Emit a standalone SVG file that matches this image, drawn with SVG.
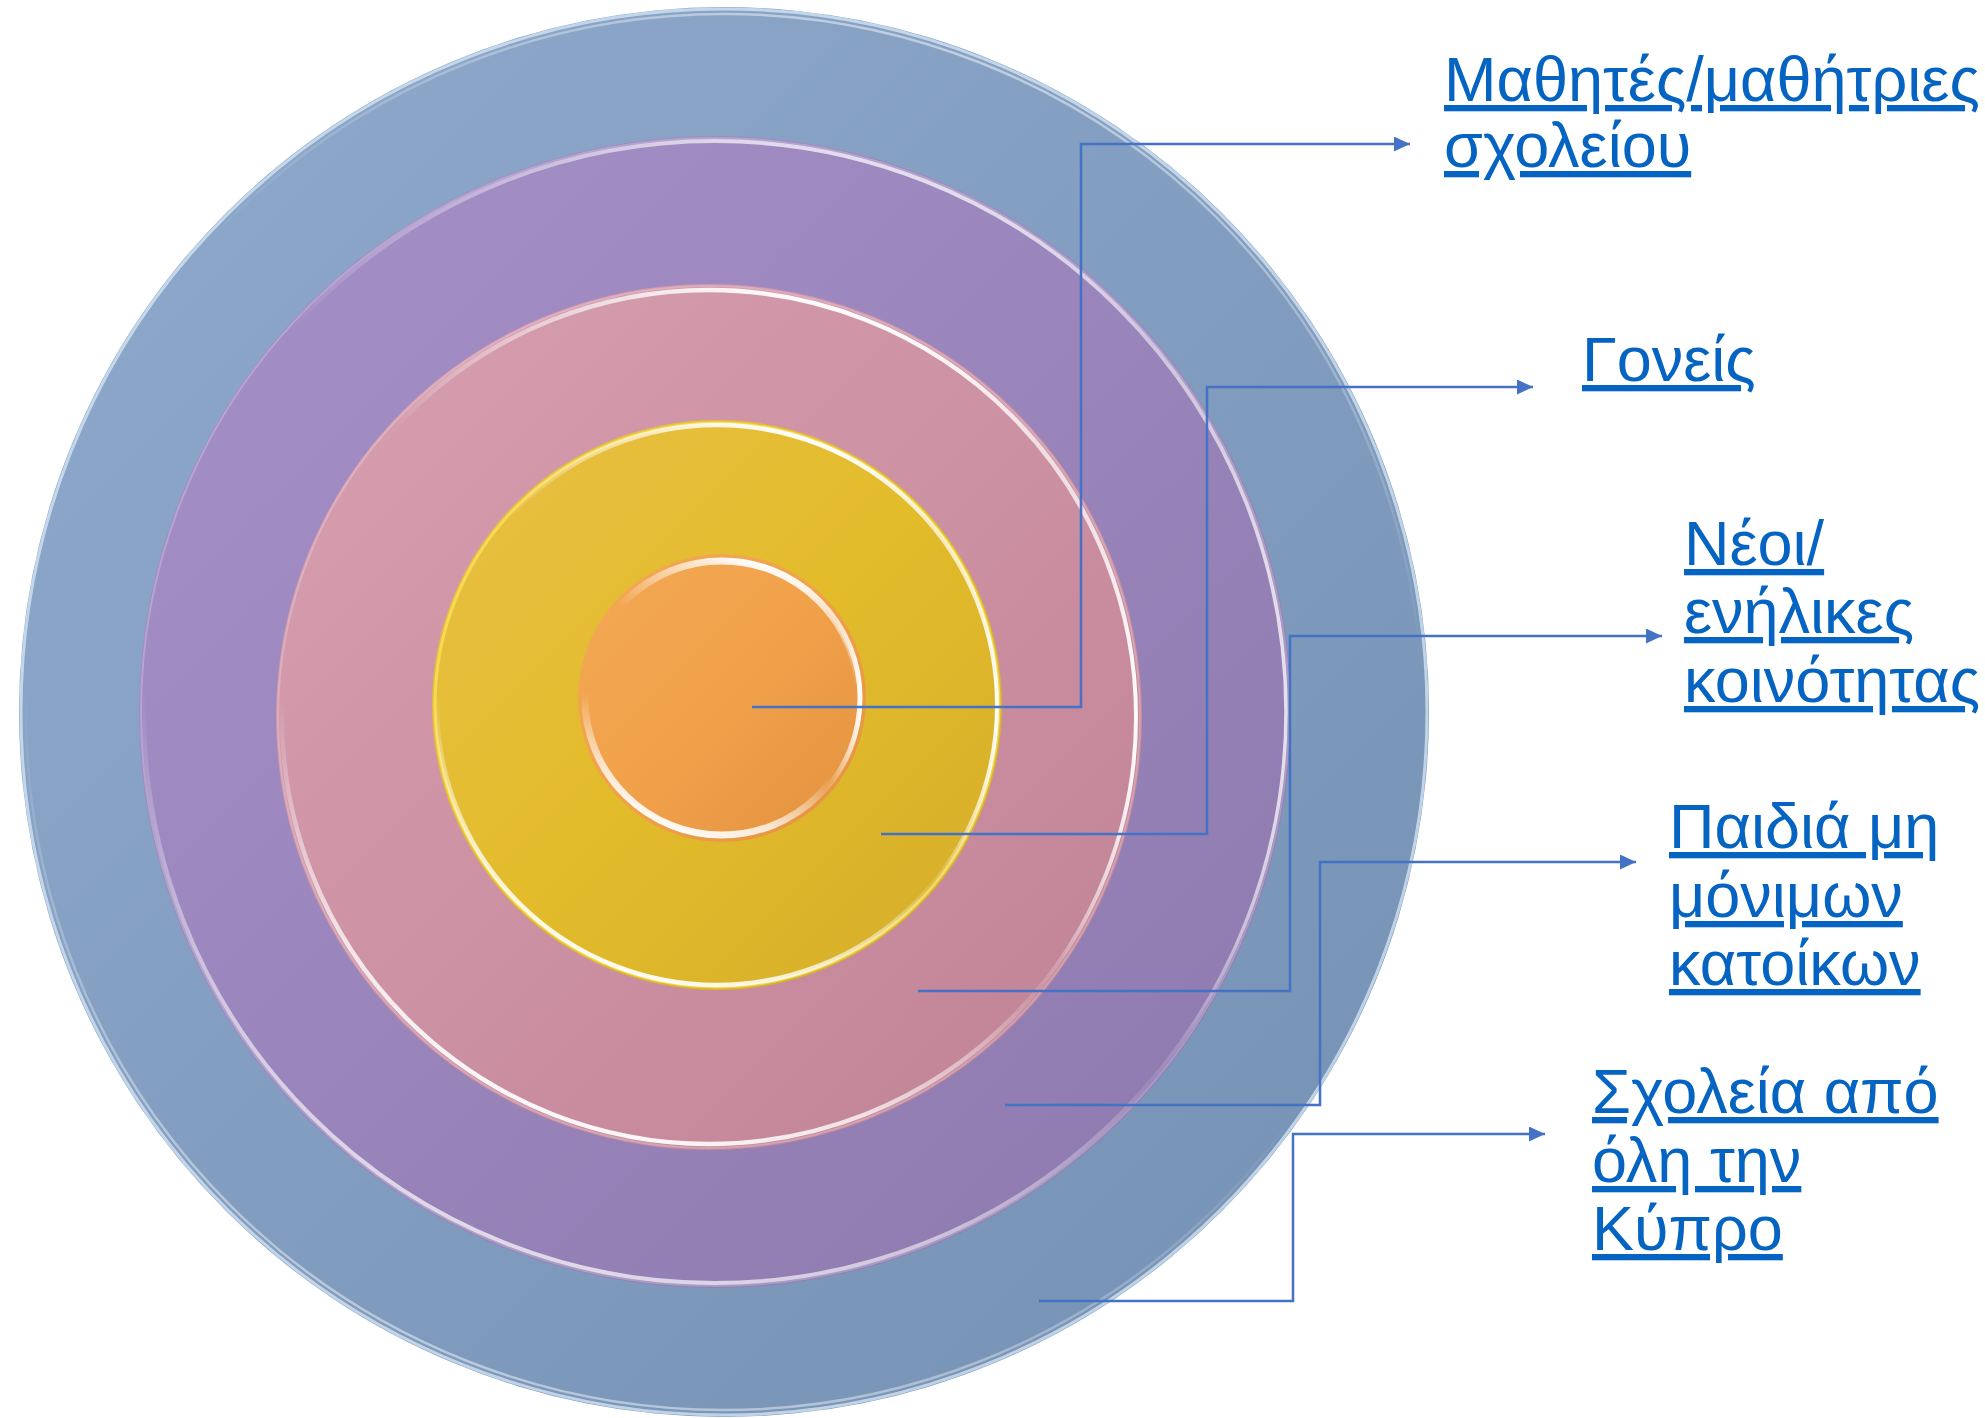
<svg xmlns="http://www.w3.org/2000/svg" width="1985" height="1418" viewBox="0 0 1985 1418">
<style>
.lbl{font-family:"Liberation Sans","Noto Sans",Arial,sans-serif;font-size:63px;fill:#0563C1;text-decoration:underline;}
.conn{fill:none;stroke:#4472C4;stroke-width:2.5;marker-end:url(#arr);}
.rimA{fill:none;stroke:url(#rimTB);}
.rimB{fill:none;stroke:url(#rimR);}
.faint{fill:none;stroke:#FFFFFF;stroke-opacity:0.22;stroke-width:2;}
</style>
<defs>
<marker id="arr" markerUnits="userSpaceOnUse" markerWidth="17" markerHeight="16" refX="16" refY="7.5" orient="auto">
<path d="M0,0 L16,7.5 L0,15 z" fill="#4472C4"/>
</marker>
<linearGradient id="gBlue" x1="0" y1="0" x2="1" y2="1">
<stop offset="0" stop-color="#8FAACC"/><stop offset="1" stop-color="#7490B3"/>
</linearGradient>
<linearGradient id="gPurple" x1="0" y1="0" x2="1" y2="1">
<stop offset="0" stop-color="#A690C8"/><stop offset="1" stop-color="#8D79AE"/>
</linearGradient>
<linearGradient id="gPink" x1="0" y1="0" x2="1" y2="1">
<stop offset="0" stop-color="#D8A0B2"/><stop offset="1" stop-color="#C08294"/>
</linearGradient>
<linearGradient id="gYellow" x1="0" y1="0" x2="1" y2="1">
<stop offset="0" stop-color="#E9BF45"/><stop offset="0.5" stop-color="#E3BC2B"/><stop offset="1" stop-color="#D4AC2A"/>
</linearGradient>
<linearGradient id="gOrange" x1="0" y1="0" x2="1" y2="1">
<stop offset="0" stop-color="#F3A954"/><stop offset="0.5" stop-color="#F1A14A"/><stop offset="1" stop-color="#E2923F"/>
</linearGradient>
<linearGradient id="rimTB" x1="0.62" y1="0" x2="0.28" y2="1">
<stop offset="0" stop-color="#FFFFFF" stop-opacity="1"/>
<stop offset="0.12" stop-color="#FFFFFF" stop-opacity="0.55"/>
<stop offset="0.3" stop-color="#FFFFFF" stop-opacity="0"/>
<stop offset="0.62" stop-color="#FFFFFF" stop-opacity="0"/>
<stop offset="0.85" stop-color="#FFFFFF" stop-opacity="0.75"/>
<stop offset="1" stop-color="#FFFFFF" stop-opacity="1"/>
</linearGradient>
<linearGradient id="rimR" x1="0" y1="0.5" x2="1" y2="0.5">
<stop offset="0" stop-color="#FFFFFF" stop-opacity="0"/>
<stop offset="0.88" stop-color="#FFFFFF" stop-opacity="0"/>
<stop offset="1" stop-color="#FFFFFF" stop-opacity="0.95"/>
</linearGradient>
</defs>
<rect width="1985" height="1418" fill="#FFFFFF"/>
<g id="ring-outer">
<circle cx="724" cy="712" r="705" fill="url(#gBlue)"/>
<circle cx="724" cy="712" r="703" fill="none" stroke="#D8E8F6" stroke-width="3" stroke-opacity="0.75"/>
<circle cx="724" cy="712" r="698" class="rimA" stroke-width="2.5" opacity="0.5"/>
</g>
<g id="ring-purple">
<circle cx="715" cy="712" r="576" fill="url(#gPurple)"/>
<circle cx="715" cy="712" r="574" class="faint"/>
<circle cx="715" cy="712" r="571" class="rimA" stroke-width="4" opacity="0.75"/>
<circle cx="715" cy="712" r="571" class="rimB" stroke-width="3.5" opacity="0.8"/>
</g>
<g id="ring-pink">
<circle cx="709" cy="717" r="433" fill="url(#gPink)"/>
<circle cx="709" cy="717" r="431" class="faint"/>
<circle cx="709" cy="717" r="427" class="rimA" stroke-width="4.5"/>
<circle cx="709" cy="717" r="427" class="rimB" stroke-width="4"/>
</g>
<g id="ring-yellow">
<circle cx="717" cy="705" r="285" fill="url(#gYellow)"/>
<circle cx="717" cy="705" r="282" fill="none" stroke="#FFEE66" stroke-width="3" stroke-opacity="0.6"/>
<circle cx="717" cy="705" r="280" class="rimA" stroke-width="4.5"/>
<circle cx="717" cy="705" r="280" class="rimB" stroke-width="4"/>
</g>
<g id="ring-center">
<circle cx="722" cy="698" r="144" fill="url(#gOrange)"/>
<circle cx="722" cy="698" r="137" class="rimA" stroke-width="7"/>
<circle cx="722" cy="698" r="138" class="rimB" stroke-width="5"/>
</g>
<g id="connectors">
<path class="conn" d="M752,707 H1081 V144 H1410"/>
<path class="conn" d="M881,834 H1207 V387 H1533"/>
<path class="conn" d="M918,991 H1290 V636 H1662"/>
<path class="conn" d="M1005,1105 H1320 V862 H1636"/>
<path class="conn" d="M1039,1301 H1293 V1134 H1545"/>
</g>
<g id="label-students">
<text class="lbl"><tspan x="1444" y="101">Μαθητές/μαθήτριες</tspan><tspan x="1444" y="167">σχολείου</tspan></text>
</g>
<g id="label-parents">
<text class="lbl" x="1582" y="381">Γονείς</text>
</g>
<g id="label-youth">
<text class="lbl"><tspan x="1684" y="565">Νέοι/</tspan><tspan x="1684" y="633">ενήλικες</tspan><tspan x="1684" y="702">κοινότητας</tspan></text>
</g>
<g id="label-children">
<text class="lbl"><tspan x="1669" y="848">Παιδιά μη</tspan><tspan x="1669" y="917">μόνιμων</tspan><tspan x="1669" y="985">κατοίκων</tspan></text>
</g>
<g id="label-schools">
<text class="lbl"><tspan x="1592" y="1113">Σχολεία από</tspan><tspan x="1592" y="1182">όλη την</tspan><tspan x="1592" y="1250">Κύπρο</tspan></text>
</g>
</svg>
